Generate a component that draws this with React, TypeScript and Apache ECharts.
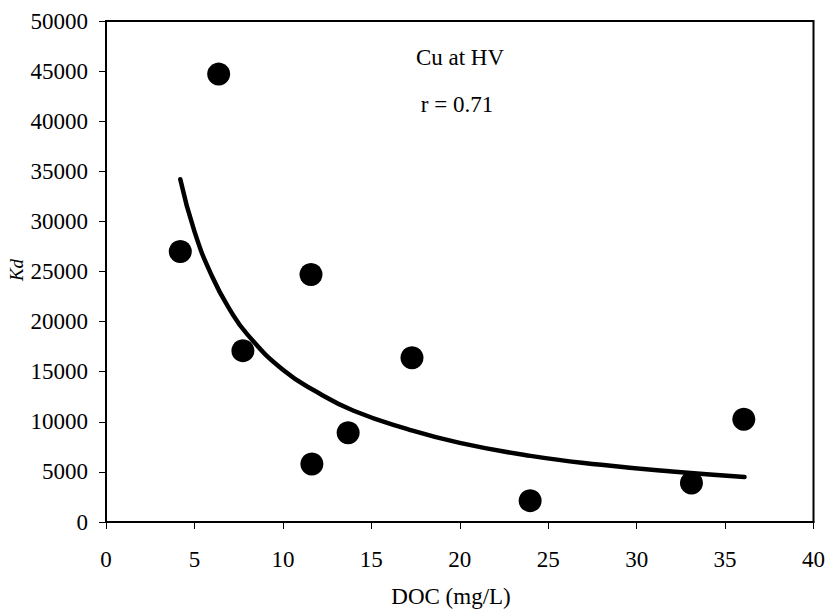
import React, { useEffect, useRef } from "react";
import * as echarts from "echarts";

const docValues = [4.2, 6.37, 7.74, 11.59, 11.64, 13.69, 17.3, 23.98, 33.1, 36.06];
const kdValues = [27000, 44700, 17100, 24700, 5790, 8900, 16400, 2130, 3900, 10250];

const fitDoc = [4.2, 5, 6, 7, 8, 10, 12, 14, 17, 20, 24, 28, 32, 36.1];
const fitKd = [34200, 29000, 24500, 21200, 18700, 15200, 12900, 11100, 9300, 7900, 6600, 5710, 5030, 4490];

const xTicks = { min: 0, max: 40, interval: 5 };
const yTicks = { min: 0, max: 50000, interval: 5000 };

const FONT = '"Liberation Serif", "Times New Roman", serif';

export default function App() {
  const ref = useRef<HTMLDivElement>(null);
  useEffect(() => {
    if (!ref.current) return;
    const chart = echarts.init(ref.current, null, { renderer: "svg" });
    chart.setOption({
      animation: false,
      backgroundColor: "#fff",
      grid: {
        left: 106,
        top: 21,
        right: 12,
        bottom: 87,
        show: true,
        borderColor: "#000",
        borderWidth: 2,
        backgroundColor: "transparent",
      },
      xAxis: {
        type: "value",
        min: xTicks.min,
        max: xTicks.max,
        interval: xTicks.interval,
        splitLine: { show: false },
        axisLine: { show: true, lineStyle: { color: "#000", width: 2 } },
        axisTick: { show: true, length: 7, lineStyle: { color: "#000", width: 1 } },
        axisLabel: { color: "#000", fontFamily: FONT, fontSize: 23, margin: 26, formatter: (v: number) => String(v) },
      },
      yAxis: {
        type: "value",
        min: yTicks.min,
        max: yTicks.max,
        interval: yTicks.interval,
        splitLine: { show: false },
        axisLine: { show: true, lineStyle: { color: "#000", width: 2 } },
        axisTick: { show: true, length: 7, lineStyle: { color: "#000", width: 1 } },
        axisLabel: { color: "#000", fontFamily: FONT, fontSize: 23, margin: 18, formatter: (v: number) => String(v) },
      },
      series: [
        {
          type: "line",
          data: fitDoc.map((x, i) => [x, fitKd[i]]),
          smooth: true,
          showSymbol: false,
          symbol: "none",
          lineStyle: { color: "#000", width: 4.5, cap: "round" },
          z: 2,
        },
        {
          type: "scatter",
          data: docValues.map((x, i) => [x, kdValues[i]]),
          symbol: "circle",
          symbolSize: 23,
          itemStyle: { color: "#000", opacity: 1 },
          z: 3,
        },
      ],
      graphic: [
        {
          type: "text",
          x: 460,
          y: 57,
          style: { text: "Cu at HV", font: `23px ${FONT}`, fill: "#000", align: "center", verticalAlign: "middle" },
        },
        {
          type: "text",
          x: 457,
          y: 104,
          style: { text: "r = 0.71", font: `23px ${FONT}`, fill: "#000", align: "center", verticalAlign: "middle" },
        },
        {
          type: "text",
          x: 451,
          y: 596,
          style: { text: "DOC (mg/L)", font: `23px ${FONT}`, fill: "#000", align: "center", verticalAlign: "middle" },
        },
        {
          type: "text",
          x: 16,
          y: 270,
          rotation: Math.PI / 2,
          style: { text: "Kd", font: `italic 19px ${FONT}`, fill: "#000", align: "center", verticalAlign: "middle" },
        },
      ],
    });
    return () => chart.dispose();
  }, []);
  return <div ref={ref} style={{ width: 828, height: 609, position: "absolute", left: 0, top: 0 }} />;
}
